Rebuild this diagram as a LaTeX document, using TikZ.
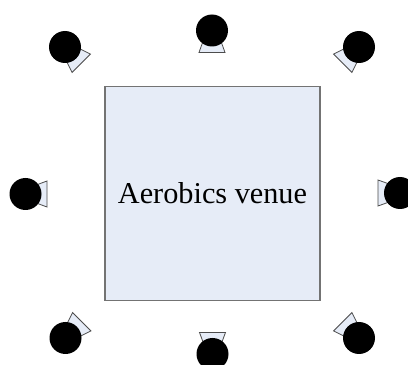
\documentclass[tikz,border=0pt]{standalone}
\usepackage{fontspec}
\setmainfont{Liberation Serif}
\definecolor{venueBlue}{HTML}{E6ECF7}
\tikzstyle{venue}=[draw=black!55, line width=1.2pt, fill=venueBlue, minimum width=161.25pt, minimum height=160.5pt, inner sep=0pt, font=\fontsize{22.7}{26}\selectfont]
\tikzstyle{head}=[circle, fill=black, inner sep=0pt, minimum size=24pt]
\tikzstyle{cone}=[draw=black!70, line width=0.6pt, fill=venueBlue]

\begin{document}
\begin{tikzpicture}[x=0.75pt, y=0.75pt]
	\clip (0,0) rectangle (408,365);
	\fill[white] (0,0) rectangle (408,365);
	\node[venue] (venue) at (212.5,171.5) {Aerobics venue};
	% cones first, the heads lie on top of them
	\foreach \name/\px/\py/\dir/\far in {tl/65/318/-45/23, tc/212/334.5/-90/22, tr/359/318/-135/23, ml/25.5/171/0/21.5, mr/400/172/180/22, bl/65.5/27/45/23, bc/212.5/11/90/21.5, br/359/27/135/23} {
		\draw[cone, shift={(\px,\py)}, rotate=\dir] (8,-8) -- (\far,-13) -- (\far,13) -- (8,8) -- cycle;
		\node[head] (\name) at (\px,\py) {};
	}
\end{tikzpicture}
\end{document}
